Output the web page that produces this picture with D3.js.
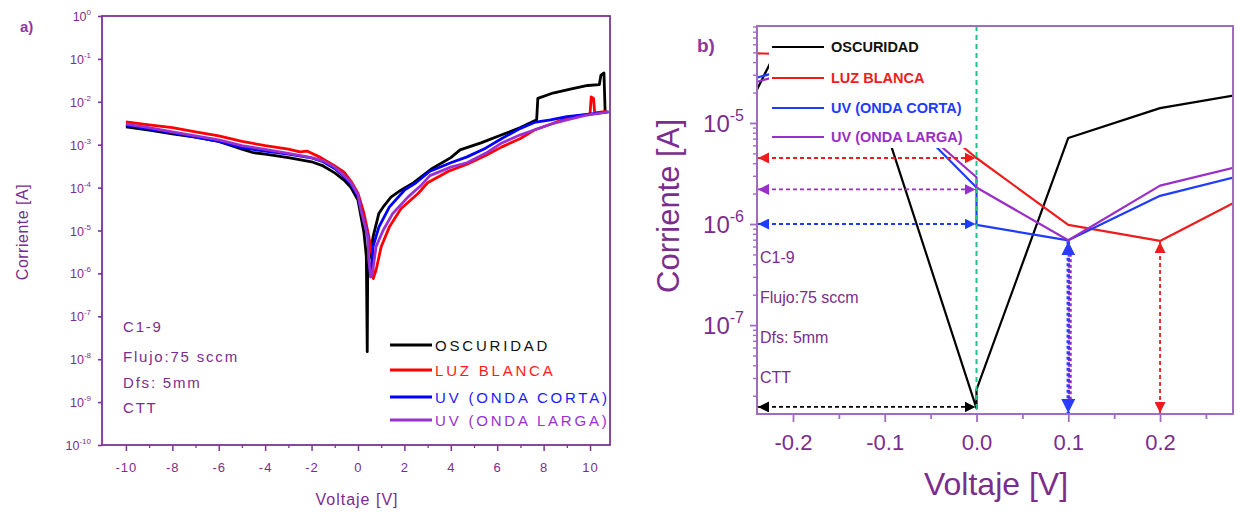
<!DOCTYPE html>
<html>
<head>
<meta charset="utf-8">
<script src="https://cdn.jsdelivr.net/npm/d3@7"></script>
<style>
  body { margin: 0; background: #fff; }
  svg { font-family: "Liberation Sans", Arial, sans-serif; }
</style>
</head>
<body>
<svg id="vis" width="1238" height="514"></svg>
<script>
// ---------- panel a) : full sweep -10..10 V ----------
const oscV = [-10,-9,-8,-7,-6,-5,-4.5,-4,-3,-2,-1.5,-1,-0.6,-0.3,0,0.26,0.36,0.4,0.42,0.56,0.65,0.9,1.08,1.42,1.85,2.4,3.2,4.0,4.4,5.3,6.2,7.0,7.7,7.75,8.4,9.2,9.9,10.4,10.47,10.6,10.65];
const oscI = [2.6e-3,2.2e-3,1.8e-3,1.5e-3,1.2e-3,7.9e-4,6.5e-4,6.0e-4,5.0e-4,4.0e-4,3.2e-4,2.2e-4,1.5e-4,1.0e-4,5.1e-5,8.7e-6,2.5e-6,1.5e-8,1.6e-6,3.2e-6,7.1e-6,2.5e-5,3.5e-5,6.0e-5,8.7e-5,1.3e-4,2.8e-4,5.0e-4,7.6e-4,1.1e-3,1.7e-3,2.5e-3,3.8e-3,1.2e-2,1.6e-2,2.0e-2,2.4e-2,2.5e-2,4.2e-2,4.7e-2,5.8e-3];

const luzV = [-10,-9,-8,-7,-6,-5,-4,-3,-2.5,-2.2,-1.6,-1.0,-0.6,-0.3,0,0.26,0.47,0.62,0.66,0.78,1.0,1.35,1.85,2.6,3.0,3.9,4.7,5.5,6.2,7.0,7.6,8.3,9.0,9.8,10.0,10.05,10.15,10.2,10.7];
const luzI = [3.4e-3,2.9e-3,2.5e-3,2.0e-3,1.6e-3,1.2e-3,9.5e-4,7.9e-4,6.8e-4,7.1e-4,5.0e-4,3.2e-4,2.3e-4,1.4e-4,7.4e-5,2.5e-5,7.1e-6,2.5e-6,7.6e-7,1.2e-6,4.2e-6,1.2e-5,3.2e-5,7.4e-5,1.3e-4,2.4e-4,3.5e-4,5.6e-4,8.9e-4,1.4e-3,2.2e-3,3.0e-3,4.2e-3,5.0e-3,5.2e-3,1.3e-2,1.2e-2,5.5e-3,6.0e-3];

const uvcV = [-10,-9,-8,-7,-6,-5,-4,-3,-2,-1.5,-1,-0.6,-0.3,0,0.13,0.43,0.47,0.55,0.6,0.65,0.9,1.35,2.0,2.5,3.1,4.0,4.7,5.5,6.2,7.0,7.6,8.3,9.0,9.8,10.8];
const uvcI = [2.9e-3,2.3e-3,1.9e-3,1.5e-3,1.2e-3,8.5e-4,7.1e-4,6.0e-4,4.9e-4,4.0e-4,2.8e-4,1.8e-4,1.2e-4,6.3e-5,3.0e-5,7.1e-6,2.0e-6,8.3e-7,1.3e-6,4.2e-6,1.2e-5,3.5e-5,8.7e-5,1.3e-4,2.4e-4,3.8e-4,5.2e-4,8.3e-4,1.4e-3,2.4e-3,3.3e-3,3.8e-3,4.5e-3,5.0e-3,5.8e-3];

const uvlV = [-10,-9,-8,-7,-6,-5,-4,-3,-2,-1.5,-1,-0.6,-0.3,0,0.13,0.43,0.47,0.55,0.62,0.78,1.08,1.5,2.15,2.7,3.1,4.0,4.7,5.5,6.2,7.0,7.6,8.3,9.0,9.8,10.8];
const uvlI = [3.0e-3,2.5e-3,2.0e-3,1.6e-3,1.3e-3,9.5e-4,7.8e-4,6.3e-4,5.0e-4,4.2e-4,3.0e-4,1.9e-4,1.3e-4,6.8e-5,3.0e-5,7.1e-6,2.0e-6,8.3e-7,1.0e-6,4.2e-6,1.0e-5,2.5e-5,6.0e-5,1.1e-4,1.9e-4,3.0e-4,3.8e-4,6.3e-4,1.1e-3,1.7e-3,2.2e-3,3.0e-3,3.8e-3,4.8e-3,5.8e-3];

const aXTicks = [-10,-8,-6,-4,-2,0,2,4,6,8,10];
const aXMinor = [-9,-7,-5,-3,-1,1,3,5,7,9];
const aYTicks = [1,1e-1,1e-2,1e-3,1e-4,1e-5,1e-6,1e-7,1e-8,1e-9,1e-10];

// ---------- panel b) : zoom around 0 V ----------
const zoomV = [-0.3,-0.2,-0.1,0,0,0.1,0.2,0.3];
const zOscI = [1.7e-6,1.1e-4,9.3e-6,1.5e-8,2.3e-8,7.1e-6,1.4e-5,2.0e-5];
const zLuzI = [5.0e-5,4.8e-5,2.5e-5,4.5e-6,4.5e-6,9.8e-7,6.8e-7,2.0e-6];
const zUvcI = [2.0e-5,3.5e-5,1.9e-5,2.3e-6,9.8e-7,6.9e-7,1.9e-6,3.2e-6];
const zUvlI = [1.8e-5,3.2e-5,1.8e-5,2.9e-6,2.3e-6,6.9e-7,2.4e-6,4.0e-6];

const bXTicks = [-0.2,-0.1,0.0,0.1,0.2];
const bXMinor = [-0.15,-0.05,0.05,0.15,0.25];
const bYTicks = [1e-5,1e-6,1e-7];

// horizontal arrows (current levels at 0 V) and vertical arrows (minimum points)
const hArrowI = [4.5e-6, 2.2e-6, 1.0e-6, 1.55e-8];
const hArrowCol = ["#ee1c1c", "#9a2ec8", "#1e3cff", "#000000"];
const vArrowV = [0.1, 0.2];
const vArrowI = [6.9e-7, 6.8e-7];
const vArrowCol = ["#2a3cff", "#ee1c1c"];

const names = ["OSCURIDAD", "LUZ BLANCA", "UV (ONDA CORTA)", "UV (ONDA LARGA)"];
const notes = ["C1-9", "Flujo:75 sccm", "Dfs: 5mm", "CTT"];

const colA = ["#000000", "#ff0000", "#0000ff", "#9b30d0"];
const colB = ["#000000", "#ee1c1c", "#1e3cff", "#9a2ec8"];
const purple = "#7b2d8e";
const frameA = "#7d3398";
const frameB = "#a06cc0";

const svg = d3.select("#vis");

// ================= panel a =================
const pa = {l: 102, r: 610, t: 16, b: 445};
const xA = d3.scaleLinear().domain([-11.03, 10.86]).range([pa.l, pa.r]);
const yA = d3.scaleLog().domain([1e-10, 1]).range([pa.b, pa.t]);

const seriesA = [
  {V: oscV, I: oscI}, {V: luzV, I: luzI}, {V: uvcV, I: uvcI}, {V: uvlV, I: uvlI}
];
const lineA = d3.line().x(d => xA(d[0])).y(d => yA(d[1]));

const gA = svg.append("g");
seriesA.forEach((s, i) => {
  gA.append("path")
    .datum(d3.zip(s.V, s.I))
    .attr("d", lineA)
    .attr("fill", "none")
    .attr("stroke", colA[i])
    .attr("stroke-width", 2.8)
    .attr("stroke-linejoin", "round");
});

// frame
gA.append("rect")
  .attr("x", pa.l).attr("y", pa.t)
  .attr("width", pa.r - pa.l).attr("height", pa.b - pa.t)
  .attr("fill", "none").attr("stroke", frameA).attr("stroke-width", 1.8);

// x axis
const axA = gA.append("g").attr("transform", `translate(0,${pa.b})`)
  .call(d3.axisBottom(xA).tickValues(aXTicks).tickSize(6).tickFormat(d => d));
axA.select(".domain").remove();
axA.selectAll("line").attr("stroke", frameA).attr("stroke-width", 1.5);
axA.selectAll("text").attr("fill", purple).attr("font-size", 13)
  .attr("letter-spacing", 1).attr("y", 18);
const axAm = gA.append("g").attr("transform", `translate(0,${pa.b})`)
  .call(d3.axisBottom(xA).tickValues(aXMinor).tickSize(3).tickFormat(""));
axAm.select(".domain").remove();
axAm.selectAll("line").attr("stroke", frameA).attr("stroke-width", 1.3);

// y axis
const ayA = gA.append("g").attr("transform", `translate(${pa.l},0)`)
  .call(d3.axisLeft(yA).tickValues(aYTicks).tickSize(4).tickFormat(""));
ayA.select(".domain").remove();
ayA.selectAll("line").attr("stroke", frameA).attr("stroke-width", 1.6);
const ayAm = gA.append("g").attr("transform", `translate(${pa.l},0)`)
  .call(d3.axisLeft(yA).tickValues(yA.ticks().filter(d => !aYTicks.includes(d))).tickSize(2).tickFormat(""));
ayAm.select(".domain").remove();
ayAm.selectAll("line").attr("stroke", frameA).attr("stroke-width", 1);

aYTicks.forEach(d => {
  const t = gA.append("text")
    .attr("x", 91).attr("y", yA(d) + 5)
    .attr("text-anchor", "end").attr("fill", purple).attr("font-size", 12.5);
  t.append("tspan").text("10");
  t.append("tspan").attr("dy", -6).attr("font-size", 8)
    .text(Math.round(Math.log10(d)));
});

gA.append("text").attr("x", 357).attr("y", 505)
  .attr("text-anchor", "middle").attr("fill", purple)
  .attr("font-size", 16).attr("letter-spacing", 1).text("Voltaje [V]");
gA.append("text").attr("transform", "translate(28,232) rotate(-90)")
  .attr("text-anchor", "middle").attr("fill", purple)
  .attr("font-size", 16).attr("letter-spacing", 0.5).text("Corriente [A]");
gA.append("text").attr("x", 20).attr("y", 32)
  .attr("fill", "#8b3a9b").attr("font-size", 15).attr("font-weight", "bold").text("a)");

// notes
const noteYA = [327, 357, 383, 408];
notes.forEach((n, i) => {
  gA.append("text").attr("x", 123).attr("y", noteYA[i] + 5)
    .attr("fill", purple).attr("font-size", 15).attr("letter-spacing", 1.8).text(n);
});

// legend
const legYA = [345, 370, 397, 420];
const legTxtA = ["#111111", "#ff1a1a", "#1a1aff", "#9b30d0"];
names.forEach((n, i) => {
  gA.append("line").attr("x1", 390).attr("x2", 432)
    .attr("y1", legYA[i]).attr("y2", legYA[i])
    .attr("stroke", colA[i]).attr("stroke-width", 3);
  gA.append("text").attr("x", 435).attr("y", legYA[i] + 6)
    .attr("fill", legTxtA[i]).attr("font-size", 15).attr("letter-spacing", 2.8).text(n);
});

// ================= panel b =================
const pb = {l: 757, r: 1233, t: 26, b: 414};
const xB = d3.scaleLinear().domain([-0.2392, 0.2795]).range([pb.l, pb.r]);
const yB = d3.scaleLog().domain([1.32e-8, 9.1e-5]).range([pb.b, pb.t]);

const seriesB = [zOscI, zLuzI, zUvcI, zUvlI];
const lineB = d3.line().x(d => xB(d[0])).y(d => yB(d[1]));

const defs = svg.append("defs");
defs.append("clipPath").attr("id", "clipB").append("rect")
  .attr("x", pb.l).attr("y", pb.t).attr("width", pb.r - pb.l).attr("height", pb.b - pb.t);

function arrowMarker(id, color, size) {
  defs.append("marker").attr("id", id)
    .attr("viewBox", "0 0 10 10").attr("refX", 10).attr("refY", 5)
    .attr("markerWidth", size).attr("markerHeight", size)
    .attr("markerUnits", "userSpaceOnUse")
    .attr("orient", "auto-start-reverse")
    .append("path").attr("d", "M0,0 L10,5 L0,10 Z").attr("fill", color);
}

const gB = svg.append("g");
const gBc = gB.append("g").attr("clip-path", "url(#clipB)");
seriesB.forEach((s, i) => {
  gBc.append("path")
    .datum(d3.zip(zoomV, s))
    .attr("d", lineB)
    .attr("fill", "none")
    .attr("stroke", colB[i])
    .attr("stroke-width", 2.2)
    .attr("stroke-linejoin", "round");
});

// legend with white background
gB.append("rect").attr("x", 769).attr("y", 27).attr("width", 203).attr("height", 121).attr("fill", "#fff");
const legYB = [47, 78, 108, 137];
names.forEach((n, i) => {
  gB.append("line").attr("x1", 772).attr("x2", 824)
    .attr("y1", legYB[i]).attr("y2", legYB[i])
    .attr("stroke", colB[i]).attr("stroke-width", 2.2);
  gB.append("text").attr("x", 831).attr("y", legYB[i] + 5)
    .attr("fill", colB[i] === "#000000" ? "#111" : colB[i])
    .attr("font-size", 14.5).attr("font-weight", "bold").text(n);
});

// green dashed line at 0 V
gB.append("line").attr("x1", xB(0)).attr("x2", xB(0))
  .attr("y1", pb.t).attr("y2", pb.b)
  .attr("stroke", "#22c08a").attr("stroke-width", 2).attr("stroke-dasharray", "5,4");

// horizontal double arrows
hArrowI.forEach((v, i) => {
  const id = "mh" + i;
  arrowMarker(id, hArrowCol[i], 11);
  gB.append("line")
    .attr("x1", pb.l + 1).attr("x2", xB(0) - 1)
    .attr("y1", yB(v)).attr("y2", yB(v))
    .attr("stroke", hArrowCol[i]).attr("stroke-width", 1.8)
    .attr("stroke-dasharray", "4,3")
    .attr("marker-start", `url(#${id})`).attr("marker-end", `url(#${id})`);
});

// vertical double arrows
vArrowV.forEach((v, i) => {
  const id = "mv" + i;
  arrowMarker(id, vArrowCol[i], i === 0 ? 14 : 11);
  if (i === 0) {
    gB.append("line")
      .attr("x1", xB(v) + 1.5).attr("x2", xB(v) + 1.5)
      .attr("y1", yB(vArrowI[i]) + 8).attr("y2", pb.b - 8)
      .attr("stroke", "#9a2ec8").attr("stroke-width", 4).attr("stroke-dasharray", "3,2.5");
  }
  gB.append("line")
    .attr("x1", xB(v)).attr("x2", xB(v))
    .attr("y1", yB(vArrowI[i]) + 1).attr("y2", pb.b - 1)
    .attr("stroke", vArrowCol[i]).attr("stroke-width", i === 0 ? 3.5 : 1.8)
    .attr("stroke-dasharray", i === 0 ? "3,2.5" : "4,3")
    .attr("marker-start", `url(#${id})`).attr("marker-end", `url(#${id})`);
});

// notes
const noteYB = [257, 297, 337, 377];
notes.forEach((n, i) => {
  gB.append("text").attr("x", 760).attr("y", noteYB[i] + 6)
    .attr("fill", purple).attr("font-size", 16).text(n);
});

// frame
gB.append("rect")
  .attr("x", pb.l).attr("y", pb.t)
  .attr("width", pb.r - pb.l).attr("height", pb.b - pb.t)
  .attr("fill", "none").attr("stroke", frameB).attr("stroke-width", 2);

// x axis
const axB = gB.append("g").attr("transform", `translate(0,${pb.b})`)
  .call(d3.axisBottom(xB).tickValues(bXTicks).tickSize(8).tickFormat(d3.format(".1f")));
axB.select(".domain").remove();
axB.selectAll("line").attr("stroke", frameB).attr("stroke-width", 1.8);
axB.selectAll("text").attr("fill", purple).attr("font-size", 22).attr("y", 20)
  .text(d => d3.format(".1f")(d).replace("−", "-"));
const axBm = gB.append("g").attr("transform", `translate(0,${pb.b})`)
  .call(d3.axisBottom(xB).tickValues(bXMinor).tickSize(5).tickFormat(""));
axBm.select(".domain").remove();
axBm.selectAll("line").attr("stroke", frameB).attr("stroke-width", 1.8);

// y axis
const ayB = gB.append("g").attr("transform", `translate(${pb.l},0)`)
  .call(d3.axisLeft(yB).tickValues(bYTicks).tickSize(7).tickFormat(""));
ayB.select(".domain").remove();
ayB.selectAll("line").attr("stroke", frameB).attr("stroke-width", 1.8);
const ayBm = gB.append("g").attr("transform", `translate(${pb.l},0)`)
  .call(d3.axisLeft(yB).tickValues(yB.ticks().filter(d => !bYTicks.includes(d))).tickSize(4).tickFormat(""));
ayBm.select(".domain").remove();
ayBm.selectAll("line").attr("stroke", frameB).attr("stroke-width", 1.4);

bYTicks.forEach(d => {
  const t = gB.append("text")
    .attr("x", 744).attr("y", yB(d) + 9)
    .attr("text-anchor", "end").attr("fill", purple).attr("font-size", 24);
  t.append("tspan").text("10");
  t.append("tspan").attr("dy", -11).attr("font-size", 16)
    .text(Math.round(Math.log10(d)));
});

gB.append("text").attr("x", 996).attr("y", 495)
  .attr("text-anchor", "middle").attr("fill", purple)
  .attr("font-size", 32).text("Voltaje [V]");
gB.append("text").attr("transform", "translate(679,206) rotate(-90)")
  .attr("text-anchor", "middle").attr("fill", purple)
  .attr("font-size", 31).text("Corriente [A]");
gB.append("text").attr("x", 697).attr("y", 52)
  .attr("fill", "#8b3a9b").attr("font-size", 19).attr("font-weight", "bold").text("b)");
</script>
</body>
</html>
